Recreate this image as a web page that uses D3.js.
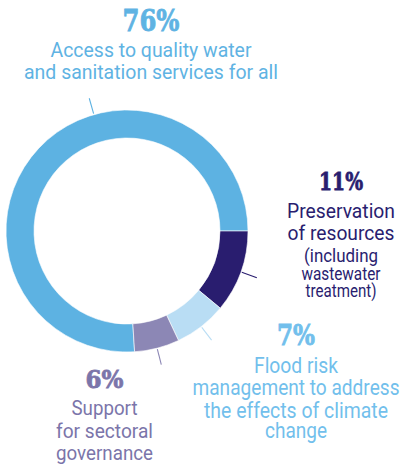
<!DOCTYPE html>
<html>
<head>
<meta charset="utf-8">
<script src="https://cdn.jsdelivr.net/npm/d3@7"></script>
<style>
  html, body { margin: 0; padding: 0; background: #fff; }
  svg { display: block; }
</style>
</head>
<body>
<svg id="chart" width="402" height="468"></svg>
<script>
// ---- data ----
const categories = [
  "Access to quality water and sanitation services for all",
  "Preservation of resources (including wastewater treatment)",
  "Flood risk management to address the effects of climate change",
  "Support for sectoral governance"
];
const values = [76, 11, 7, 6];
const percentLabels = ["76%", "11%", "7%", "6%"];
const labelLines = [
  ["Access to quality water", "and sanitation services for all"],
  ["Preservation", "of resources", "(including", "wastewater", "treatment)"],
  ["Flood risk", "management to address", "the effects of climate", "change"],
  ["Support", "for sectoral", "governance"]
];

// ---- styles / layout ----
const fillColors = ["#5db2e2", "#291d6f", "#b9ddf4", "#8c87b5"];
const textColors = ["#5fb3e3", "#291d6f", "#72bfec", "#7b75aa"];
const cx = 127, cy = 231, rOuter = 121, rInner = 93;

const svg = d3.select("#chart");
const g = svg.append("g").attr("transform", `translate(${cx},${cy})`);

const total = d3.sum(values);
const start = Math.PI / 2 - (values[0] / total) * 2 * Math.PI;
const pie = d3.pie().sort(null).value(d => d)
  .startAngle(start)
  .endAngle(start + 2 * Math.PI);
const arcs = pie(values);
const arc = d3.arc().innerRadius(rInner).outerRadius(rOuter);

g.selectAll("path.seg").data(arcs).join("path")
  .attr("class", "seg")
  .attr("d", arc)
  .attr("fill", (d, i) => fillColors[i])
  .attr("stroke", "#fff")
  .attr("stroke-width", 0.6);

// leader lines: midpoint of each arc, except the large one, which points up towards its label
const leaderAngle = (d, i) => i === 0 ? d.startAngle + (d.endAngle - d.startAngle) * 0.613 : (d.startAngle + d.endAngle) / 2;
g.selectAll("line.leader").data(arcs).join("line")
  .attr("class", "leader")
  .attr("x1", (d, i) => Math.sin(leaderAngle(d, i)) * (rOuter + 1))
  .attr("y1", (d, i) => -Math.cos(leaderAngle(d, i)) * (rOuter + 1))
  .attr("x2", (d, i) => Math.sin(leaderAngle(d, i)) * (rOuter + 17))
  .attr("y2", (d, i) => -Math.cos(leaderAngle(d, i)) * (rOuter + 17))
  .attr("stroke", (d, i) => fillColors[i])
  .attr("stroke-width", 1.1);

// label layout (position of each block)
const labelLayout = [
  { x: 151, pctY: 31, pctSize: 30, pctW: 57, lineY: [57, 79], size: [21, 21], widths: [201, 254] },
  { x: 341, pctY: 190, pctSize: 25, pctW: 44, lineY: [218, 240, 262, 280, 297], size: [21, 21, 17.5, 17.5, 17.5], widths: [108, 107, 74, 79, 71] },
  { x: 296, pctY: 345, pctSize: 27, pctW: 38, lineY: [373, 395, 418, 438], size: [21.5, 21.5, 21.5, 21.5], widths: [84, 207, 184, 62] },
  { x: 104.5, pctY: 388, pctSize: 25, pctW: 38, lineY: [415, 438, 460], size: [21, 21, 21], widths: [66, 97, 97] }
];

const labels = svg.selectAll("g.label").data(categories).join("g").attr("class", "label");
labels.append("text")
  .attr("x", (d, i) => labelLayout[i].x)
  .attr("y", (d, i) => labelLayout[i].pctY)
  .attr("text-anchor", "middle")
  .attr("font-family", "'DejaVu Serif', serif")
  .attr("font-weight", "bold")
  .attr("font-size", (d, i) => labelLayout[i].pctSize)
  .attr("textLength", (d, i) => labelLayout[i].pctW)
  .attr("lengthAdjust", "spacingAndGlyphs")
  .attr("fill", (d, i) => textColors[i])
  .attr("stroke", (d, i) => textColors[i])
  .attr("stroke-width", 0.8)
  .text((d, i) => percentLabels[i]);

labels.each(function (d, i) {
  const L = labelLayout[i];
  d3.select(this).selectAll("text.line").data(labelLines[i]).join("text")
    .attr("class", "line")
    .attr("x", L.x)
    .attr("y", (t, j) => L.lineY[j])
    .attr("text-anchor", "middle")
    .attr("font-family", "Roboto, 'Noto Sans', sans-serif")
    .attr("font-size", (t, j) => L.size[j])
    .attr("textLength", (t, j) => L.widths[j])
    .attr("lengthAdjust", "spacingAndGlyphs")
    .attr("fill", textColors[i])
    .text(t => t);
});
</script>
</body>
</html>
